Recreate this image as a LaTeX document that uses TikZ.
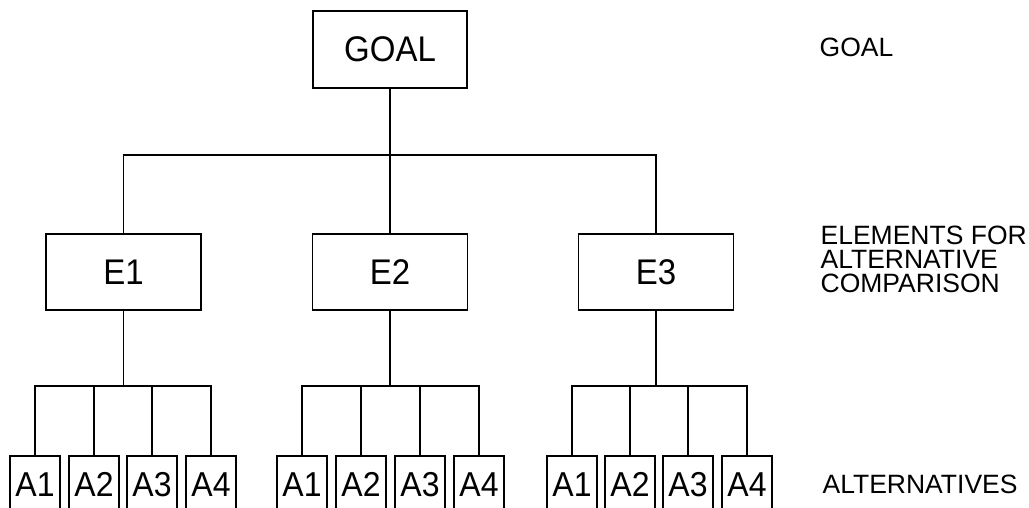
\documentclass[tikz,border=0pt]{standalone}
\usepackage{fontspec}
\setmainfont{Liberation Sans}
\newcommand{\vstretch}[1]{\scalebox{1}[1.08]{#1}}
\begin{document}
\begin{tikzpicture}[x=1pt,y=-1pt,
  line width=1.3pt,
  boxtext/.style={font=\fontsize{33}{36}\selectfont},
  ebox/.style={draw, line width=1.3pt, inner sep=0pt, minimum width=155pt, minimum height=76pt, boxtext},
  abox/.style={draw, line width=1.3pt, inner sep=0pt, minimum width=50pt, minimum height=57pt, font=\fontsize{32}{35}\selectfont},
  lbl/.style={inner sep=0pt, font=\fontsize{26.5}{24}\selectfont}
]
\useasboundingbox (0,0) rectangle (1029,508);
\clip (0,0) rectangle (1029,508);

% goal
\node[ebox, minimum width=154pt, minimum height=77pt] (goal) at (390,49.5) {\vstretch{GOAL}};

% elements
\node[ebox] (e1) at (123.5,272) {\vstretch{E1}};
\node[ebox] (e2) at (390,272) {\vstretch{E2}};
\node[ebox] (e3) at (656,272) {\vstretch{E3}};

\coordinate (hub) at (390,155);
\coordinate (hubA) at (0,386);

% alternatives
\foreach \g/\xa/\xb/\xc/\xd in {1/35/94/152/211, 2/302/361/420/479, 3/572/630/688/747}{
  \node[abox] (a\g1) at (\xa,484.5) {\vstretch{A1}};
  \node[abox] (a\g2) at (\xb,484.5) {\vstretch{A2}};
  \node[abox] (a\g3) at (\xc,484.5) {\vstretch{A3}};
  \node[abox] (a\g4) at (\xd,484.5) {\vstretch{A4}};
}

% connectors goal -> elements
\draw (goal.south) -- (e2.north);
\draw (e1.north) -- (e1.north |- hub) -- (e3.north |- hub) -- (e3.north);

% connectors elements -> alternatives
\foreach \g in {1,2,3}{
  \draw (e\g.south) -- (e\g.south |- hubA);
  \draw (a\g1.north) -- (a\g1.north |- hubA) -- (a\g4.north |- hubA) -- (a\g4.north);
  \draw (a\g2.north) -- (a\g2.north |- hubA);
  \draw (a\g3.north) -- (a\g3.north |- hubA);
}

% right labels
\node[lbl, anchor=base west] (lgoal) at (819,57) {GOAL};
\node[lbl, anchor=north west, align=left] (lelem) at (820,225) {ELEMENTS FOR\\ALTERNATIVE\\COMPARISON};
\node[lbl, anchor=base west] (lalt) at (822,493) {ALTERNATIVES};
\end{tikzpicture}
\end{document}
